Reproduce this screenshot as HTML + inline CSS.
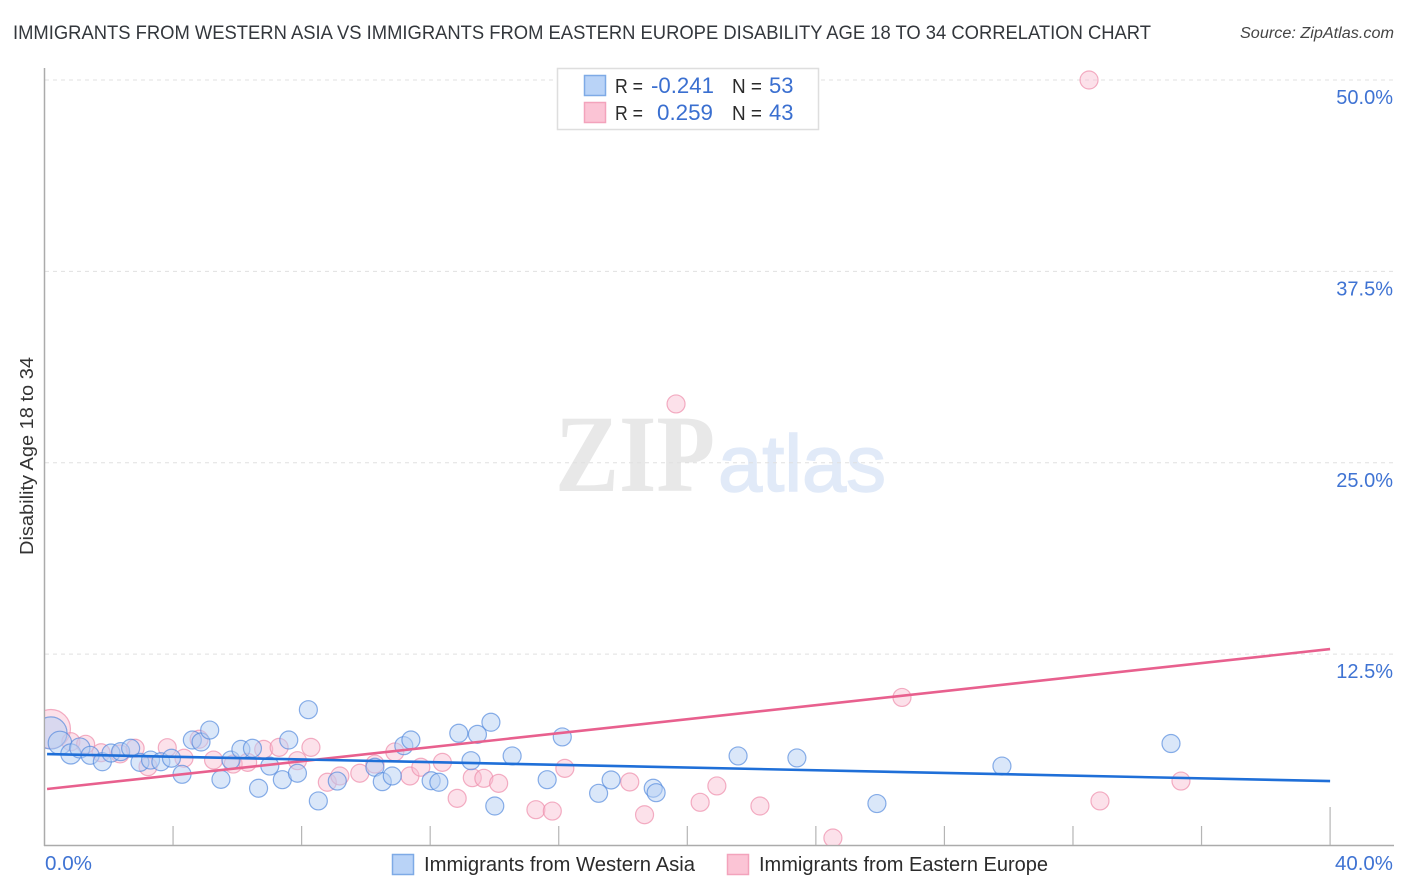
<!DOCTYPE html>
<html lang="en">
<head>
<meta charset="utf-8">
<title>Disability Age 18 to 34 Correlation Chart</title>
<style>
  html, body { margin: 0; padding: 0; background: #fff; }
  svg { display: block; font-family: "Liberation Sans", sans-serif; }
</style>
</head>
<body>
<svg id="chart" xmlns="http://www.w3.org/2000/svg" width="1406" height="892" viewBox="0 0 1406 892">
  <defs>
    <clipPath id="plot-clip"><rect x="45" y="60" width="1350" height="785"></rect></clipPath>
  </defs>
  <rect x="0" y="0" width="1406" height="892" fill="#fff"></rect>

  <text x="13" y="39" font-size="19.5" fill="#33373c" textLength="1138" lengthAdjust="spacingAndGlyphs">IMMIGRANTS FROM WESTERN ASIA VS IMMIGRANTS FROM EASTERN EUROPE DISABILITY AGE 18 TO 34 CORRELATION CHART</text>
  <text x="1394" y="38" font-size="15.5" font-style="italic" fill="#444" text-anchor="end" textLength="154" lengthAdjust="spacingAndGlyphs">Source: ZipAtlas.com</text>

  <g>
    <text x="555" y="491" font-family="'Liberation Serif', serif" font-size="110" font-weight="bold" fill="#e8e8e8" textLength="160" lengthAdjust="spacingAndGlyphs">ZIP</text>
    <text x="718" y="491" font-size="80" fill="#e1eaf8" stroke="#e1eaf8" stroke-width="1.5" textLength="168" lengthAdjust="spacingAndGlyphs">atlas</text>
  </g>

  <g id="grid"></g>
  <g id="axes"></g>
  <g id="marks" clip-path="url(#plot-clip)"></g>
  <g id="trends"></g>
  <g id="labels"></g>

  <text transform="translate(33 456) rotate(-90)" font-size="18.5" fill="#333" text-anchor="middle" textLength="198" lengthAdjust="spacingAndGlyphs">Disability Age 18 to 34</text>

  <g>
    <rect x="557.5" y="68.5" width="261" height="61" fill="#fff" stroke="#dedede" stroke-width="1.5"></rect>
    <rect x="584.5" y="75.5" width="21" height="20" fill="#b9d3f7" stroke="#7eaae6" stroke-width="1.5"></rect>
    <rect x="584.5" y="102.5" width="21" height="20" fill="#fbc4d5" stroke="#f3a3bc" stroke-width="1.5"></rect>
    <g font-size="20" fill="#2b2b2b">
      <text x="615" y="93" textLength="28" lengthAdjust="spacingAndGlyphs">R =</text>
      <text x="714" y="93" fill="#3a6fd0" text-anchor="end" font-size="22" textLength="63" lengthAdjust="spacingAndGlyphs">-0.241</text>
      <text x="732" y="93" textLength="30" lengthAdjust="spacingAndGlyphs">N =</text>
      <text x="769" y="93" fill="#3a6fd0" font-size="22">53</text>
      <text x="615" y="120" textLength="28" lengthAdjust="spacingAndGlyphs">R =</text>
      <text x="713" y="120" fill="#3a6fd0" text-anchor="end" font-size="22" textLength="56" lengthAdjust="spacingAndGlyphs">0.259</text>
      <text x="732" y="120" textLength="30" lengthAdjust="spacingAndGlyphs">N =</text>
      <text x="769" y="120" fill="#3a6fd0" font-size="22">43</text>
    </g>
  </g>

  <g>
    <g>
      <rect x="392.5" y="854.5" width="21" height="20" fill="#b9d3f7" stroke="#7eaae6" stroke-width="1.5"></rect>
      <text x="424" y="871" font-size="20" fill="#2b2b2b" textLength="271" lengthAdjust="spacingAndGlyphs">Immigrants from Western Asia</text>
    </g>
    <g>
      <rect x="727.5" y="854.5" width="21" height="20" fill="#fbc4d5" stroke="#f3a3bc" stroke-width="1.5"></rect>
      <text x="759" y="871" font-size="20" fill="#2b2b2b" textLength="289" lengthAdjust="spacingAndGlyphs">Immigrants from Eastern Europe</text>
    </g>
  </g>
</svg>

<script>
// ---- chart data (percent values) ----
const yTicks = [12.5, 25, 37.5, 50];
const yTickLabels = ["12.5%", "25.0%", "37.5%", "50.0%"];
const xTicks = [0, 4, 8, 12, 16, 20, 24, 28, 32, 36, 40];
const xEndLabels = ["0.0%", "40.0%"];

const blueX = [0.20,0.48,0.82,1.10,1.42,1.80,2.07,2.37,2.68,2.97,3.30,3.62,3.95,4.28,4.60,4.87,5.14,5.49,5.80,6.11,6.47,6.66,7.01,7.40,7.60,7.87,8.21,8.52,9.11,10.28,10.51,10.82,11.18,11.40,12.03,12.27,12.89,13.47,13.89,13.27,14.01,14.55,15.64,16.11,17.24,17.63,18.94,19.03,21.58,23.41,25.90,29.79,35.05];
const blueY = [7.35,6.70,5.98,6.37,5.89,5.47,6.04,6.13,6.35,5.43,5.58,5.47,5.70,4.65,6.89,6.76,7.54,4.32,5.58,6.28,6.35,3.74,5.19,4.30,6.89,4.72,8.87,2.91,4.21,5.11,4.17,4.54,6.52,6.89,4.23,4.13,7.33,7.26,8.05,5.54,2.58,5.85,4.30,7.09,3.41,4.28,3.74,3.45,5.85,5.72,2.74,5.19,6.66];
// relative population weight of the first few points; the rest weigh 1
const blueWeights = [3.2,1.7,1.25,1.25];

const pinkX = [0.20,0.82,1.28,1.76,2.35,2.82,3.22,3.82,4.34,4.81,5.26,5.87,6.32,6.82,7.30,7.87,8.29,8.80,9.19,9.81,10.28,10.90,11.37,11.71,12.38,12.84,13.31,13.67,14.13,15.29,15.80,16.19,18.21,18.67,20.40,20.92,22.26,24.53,26.68,32.84,35.36,19.65,32.50];
const pinkY = [7.61,6.78,6.61,6.06,5.98,6.35,5.15,6.39,5.70,6.94,5.58,5.32,5.43,6.28,6.41,5.54,6.41,4.13,4.54,4.72,5.32,6.11,4.54,5.11,5.43,3.08,4.43,4.39,4.06,2.34,2.25,5.04,4.15,2.01,2.82,3.89,2.58,0.49,9.67,2.91,4.21,28.84,50.00];
const pinkWeights = [4.7];

const blueTrendX = [0.08, 40];
const blueTrendY = [5.97, 4.21];
const pinkTrendX = [0.08, 40];
const pinkTrendY = [3.69, 12.83];

// ---- axis functions ----
function xScale(v) { return 44.5 + v * 32.14; }
function yScale(v) { return 845.5 - v * 15.31; }

const NS = "http://www.w3.org/2000/svg";
function make(tag, attrs, parent) {
  const el = document.createElementNS(NS, tag);
  for (const k in attrs) el.setAttribute(k, attrs[k]);
  parent.appendChild(el);
  return el;
}

const gridG = document.getElementById("grid");
const axesG = document.getElementById("axes");
const marksG = document.getElementById("marks");
const trendsG = document.getElementById("trends");
const labelsG = document.getElementById("labels");

yTicks.forEach(function (t, i) {
  const line = make("line", { x1: 45, x2: 1394, y1: yScale(t), y2: yScale(t), stroke: "#e0e0e0", "stroke-width": 1, "stroke-dasharray": "4 4" }, gridG);
  
  
  const lab = make("text", { x: 1393, y: yScale(t) + 24, "font-size": 20, fill: "#3f73d3", "text-anchor": "end" }, labelsG);
  
  
  lab.textContent = yTickLabels[i];
});

const yAxis = make("line", { x1: 44.5, x2: 44.5, y1: 68, y2: 846, stroke: "#ababab", "stroke-width": 1.5 }, axesG);


const xAxis = make("line", { x1: 44, x2: 1394, y1: 845.5, y2: 845.5, stroke: "#ababab", "stroke-width": 1.5 }, axesG);



xTicks.forEach(function (t, i) {
  if (i === 0) return;
  const isLast = i === xTicks.length - 1;
  const tick = make("line", { x1: xScale(t), x2: xScale(t), y1: isLast ? 807 : 826, y2: 845, stroke: "#b5b5b5", "stroke-width": 1.2 }, axesG);
  
  
});

const xLabelStart = make("text", { x: xScale(xTicks[0]) + 0.5, y: 870, "font-size": 20, fill: "#3f73d3", textLength: 47, lengthAdjust: "spacingAndGlyphs" }, labelsG);


xLabelStart.textContent = xEndLabels[0];
const xLabelEnd = make("text", { x: 1393, y: 870, "font-size": 20, fill: "#3f73d3", "text-anchor": "end", textLength: 58, lengthAdjust: "spacingAndGlyphs" }, labelsG);


xLabelEnd.textContent = xEndLabels[1];

pinkX.forEach(function (v, i) {
  const w = pinkWeights[i] || 1;
  const dot = make("circle", { cx: xScale(v), cy: yScale(pinkY[i]), r: 9 * Math.sqrt(w), fill: "#f9bdd0", "fill-opacity": 0.45, stroke: "#ee8dab", "stroke-opacity": 0.7, "stroke-width": 1.2 }, marksG);
  
  
});
blueX.forEach(function (v, i) {
  const w = blueWeights[i] || 1;
  const dot = make("circle", { cx: xScale(v), cy: yScale(blueY[i]), r: 9 * Math.sqrt(w), fill: "#b5cff4", "fill-opacity": 0.5, stroke: "#4c84dc", "stroke-opacity": 0.65, "stroke-width": 1.2 }, marksG);
  
  
});

const pinkLine = make("line", { x1: xScale(pinkTrendX[0]), y1: yScale(pinkTrendY[0]), x2: xScale(pinkTrendX[1]), y2: yScale(pinkTrendY[1]), stroke: "#e8608e", "stroke-width": 2.6 }, trendsG);


const blueLine = make("line", { x1: xScale(blueTrendX[0]), y1: yScale(blueTrendY[0]), x2: xScale(blueTrendX[1]), y2: yScale(blueTrendY[1]), stroke: "#1f6fd8", "stroke-width": 2.6 }, trendsG);


</script>
</body>
</html>
